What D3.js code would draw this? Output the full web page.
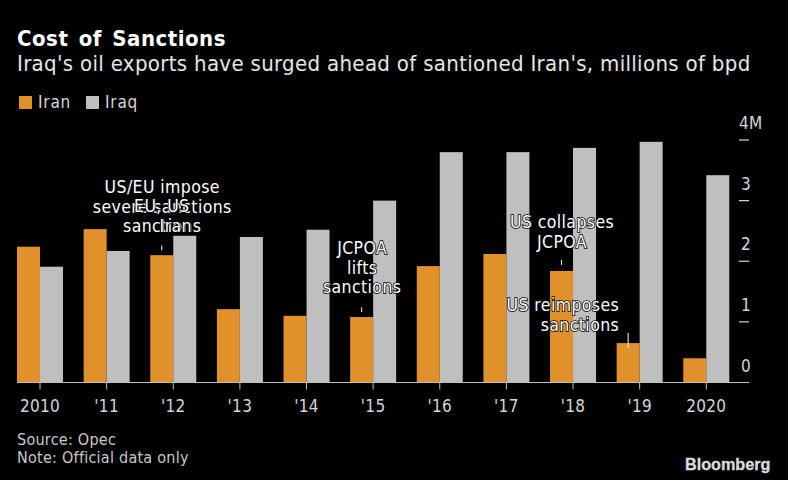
<!DOCTYPE html>
<html><head><meta charset="utf-8">
<script src="https://cdn.jsdelivr.net/npm/d3@7"></script>
<style>html,body{margin:0;padding:0;background:#000}svg{display:block}text{font-family:"DejaVu Sans Condensed","DejaVu Sans",sans-serif;font-stretch:condensed}</style>
</head><body><svg id="c" width="788" height="480"></svg>
<script>
const categories=["2010","'11","'12","'13","'14","'15","'16","'17","'18","'19","2020"];
const iran=[2.24,2.53,2.10,1.21,1.10,1.08,1.92,2.12,1.84,0.65,0.40];
const iraq=[1.91,2.17,2.42,2.40,2.52,3.00,3.80,3.80,3.87,3.97,3.42];
const yTicks=[0,1,2,3,4];
const yTickLabels=["0","1","2","3","4M"];
const annotations=[
 {cat:"'12",from:2.18,to:2.26,gap:13,lines:["US/EU impose","severe sanctions","sanctions"],anchor:"middle",dx:0.5},
 {cat:"'15",from:1.16,to:1.24,gap:14,lines:["JCPOA","lifts","sanctions"],anchor:"middle",dx:0.5},
 {cat:"'18",from:1.94,to:2.02,gap:12,lines:["US collapses","JCPOA"],anchor:"middle",dx:0.5},
 {cat:"'19",from:0.57,to:0.82,gap:2,lines:["US reimposes","sanctions"],anchor:"end",dx:-9}
];
const overlayLabels=[{cat:"'12",text:"EU, US",dx:0,val:2.81},{cat:"'12",text:"Iran",dx:14,val:2.48}];
const svg=d3.select("#c");
svg.append("rect").attr("width",788).attr("height",480).attr("fill","#000");
const x=d3.scaleBand().domain(categories).range([6.7,739.6]);
const y=d3.scaleLinear().domain([0,4]).range([382.5,140]);
const bw=23;
const c=d=>x(d)+x.bandwidth()/2;
const g=svg.append("g");
g.selectAll("rect.iran").data(categories).join("rect").attr("class","iran")
 .attr("x",d=>c(d)-bw).attr("width",bw).attr("y",(d,i)=>y(iran[i])).attr("height",(d,i)=>y(0)-y(iran[i])).attr("fill","#e0912a");
g.selectAll("rect.iraq").data(categories).join("rect").attr("class","iraq")
 .attr("x",d=>c(d)).attr("width",bw).attr("y",(d,i)=>y(iraq[i])).attr("height",(d,i)=>y(0)-y(iraq[i])).attr("fill","#bfbfbf");
const T=(sel,size,sp)=>sel.attr("font-size",size).attr("letter-spacing",sp);
// axes
g.append("line").attr("x1",17).attr("x2",749).attr("y1",y(0)).attr("y2",y(0)).attr("stroke","#bdbdbd").attr("stroke-width",1.2);
g.selectAll("line.xt").data(categories).join("line").attr("class","xt").attr("x1",c).attr("x2",c).attr("y1",y(0)).attr("y2",y(0)+7).attr("stroke","#bdbdbd");
T(g.selectAll("text.xl").data(categories).join("text").attr("class","xl").attr("x",c).attr("y",412).attr("text-anchor","middle").attr("fill","#d6d6d6").text(d=>d),17,0.3);
g.selectAll("line.yt").data(yTicks.filter(d=>d>0)).join("line").attr("class","yt").attr("x1",739).attr("x2",749).attr("y1",d=>y(d)).attr("y2",d=>y(d)).attr("stroke","#d6d6d6").attr("stroke-width",1.2);
T(g.selectAll("text.yl").data(yTicks).join("text").attr("class","yl").attr("x",d=>d==4?739:741).attr("y",d=>y(d)-11).attr("fill","#d6d6d6").text((d,i)=>yTickLabels[i]),17,0.3);
// annotations
const iranX=d=>c(d)-bw/2;
const label=(xx,yy,t,anchor)=>T(g.append("text").attr("x",xx).attr("y",yy).attr("text-anchor",anchor).attr("fill","#fff")
   .attr("stroke","#000").attr("stroke-width",1.6).attr("paint-order","stroke").text(t),17.5,0.4);
annotations.forEach(a=>{
 const cx=iranX(a.cat);
 g.append("line").attr("x1",cx).attr("x2",cx).attr("y1",y(a.from)).attr("y2",y(a.to)).attr("stroke","#fff");
 const last=y(a.to)-a.gap;
 a.lines.forEach((t,i)=>label(cx+a.dx,last-(a.lines.length-1-i)*19.8,t,a.anchor));
});
overlayLabels.forEach(o=>label(iranX(o.cat)+o.dx,y(o.val),o.text,"middle"));
// titles
T(svg.append("text").attr("x",17).attr("y",46).attr("fill","#fff").attr("font-weight","bold").attr("word-spacing",3).text("Cost of Sanctions"),22,0.5);
T(svg.append("text").attr("x",17).attr("y",71).attr("fill","#e6e6e6").text("Iraq's oil exports have surged ahead of santioned Iran's, millions of bpd"),22,0.33);
// legend
svg.append("rect").attr("x",19).attr("y",96).attr("width",13).attr("height",13).attr("fill","#e0912a");
T(svg.append("text").attr("x",38).attr("y",108).attr("fill","#d6d6d6").text("Iran"),17,0.8);
svg.append("rect").attr("x",86).attr("y",96).attr("width",13).attr("height",13).attr("fill","#bfbfbf");
T(svg.append("text").attr("x",105).attr("y",108).attr("fill","#d6d6d6").text("Iraq"),17,0.8);
// footer
T(svg.append("text").attr("x",17).attr("y",445).attr("fill","#c8c8c8").text("Source: Opec"),16,0.25);
T(svg.append("text").attr("x",17).attr("y",463).attr("fill","#c8c8c8").text("Note: Official data only"),16,0.25);
svg.append("text").attr("x",685).attr("y",469.5).attr("fill","#dcdcdc").attr("font-size",16.2).attr("font-weight","bold").attr("stroke","#dcdcdc").attr("stroke-width",0.3).style("font-family","Liberation Sans").style("font-stretch","normal").text("Bloomberg");
</script></body></html>
